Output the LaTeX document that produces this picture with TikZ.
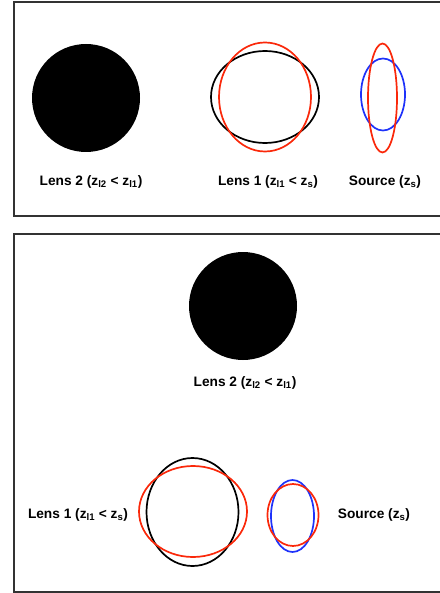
\documentclass[tikz,border=0pt]{standalone}
\usepackage{fontspec}
\setmainfont{Liberation Sans}

\definecolor{lensred}{RGB}{250,40,10}
\definecolor{srcblue}{RGB}{30,50,250}

\begin{document}
\begin{tikzpicture}[
    x=1pt, y=-1pt,
    font=\fontsize{13.7}{15}\selectfont\bfseries,
    frame/.style={draw=black!80, line width=1.2pt},
    lensdisk/.style={fill=black, draw=none},
    ring/.style={line width=1.7pt},
    label/.style={inner sep=0pt, anchor=center}
  ]

  \path[use as bounding box] (0,0) rectangle (439,593);

  % =====================================================
  % FRAMES
  % =====================================================
  \draw[frame] (14,2) rectangle (450,216);
  \draw[frame] (14,234) rectangle (450,592);

  % =====================================================
  % TOP PANEL
  % =====================================================
  \def\yTop{97}
  \def\yTopLab{182}

  % Lens 2
  \fill[lensdisk] (86,98) circle (54);
  \node[label] (topLensTwo) at (91,\yTopLab)
  {Lens 2 (z\textsubscript{l2} < z\textsubscript{l1})};

  % Lens 1
  \draw[ring, black] (265,\yTop) ellipse (54 and 46);
  \draw[ring, lensred] (265,\yTop) ellipse (46 and 54.5);
  \node[label] (topLensOne) at (268,\yTopLab)
  {Lens 1 (z\textsubscript{l1} < z\textsubscript{s})};

  % Source
  \draw[ring, srcblue] (383,94.5) ellipse (22 and 36);
  \draw[ring, lensred] (382.5,98) ellipse (14.5 and 54.5);
  \node[label] (topSource) at (385,\yTopLab)
  {Source (z\textsubscript{s})};

  % =====================================================
  % BOTTOM PANEL
  % =====================================================
  \def\yBot{512}
  \def\yBotLab{515}

  % Lens 2
  \fill[lensdisk] (243,306) circle (54);
  \node[label] (botLensTwo) at (245,383)
  {Lens 2 (z\textsubscript{l2} < z\textsubscript{l1})};

  % Lens 1
  \draw[ring, black] (192.5,\yBot) ellipse (46 and 54);
  \draw[ring, lensred] (193,511.5) ellipse (54 and 45.5);
  \node[label] (botLensOne) at (78,\yBotLab)
  {Lens 1 (z\textsubscript{l1} < z\textsubscript{s})};

  % Source
  \draw[ring, srcblue] (292.5,516) ellipse (21.5 and 36);
  \draw[ring, lensred] (293,515) ellipse (25.5 and 31);
  \node[label] (botSource) at (374,\yBotLab)
  {Source (z\textsubscript{s})};

\end{tikzpicture}
\end{document}
